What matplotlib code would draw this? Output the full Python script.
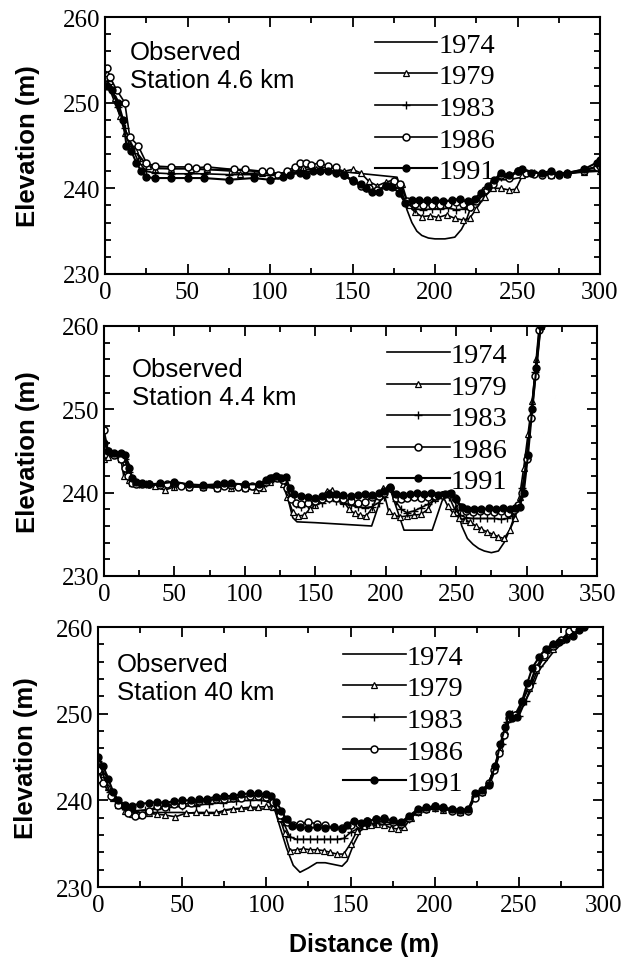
import matplotlib
matplotlib.use("Agg")
import matplotlib.pyplot as plt
from matplotlib.ticker import MultipleLocator

# Station 4.6 km
S46_1974_X = [2, 5, 10, 15, 20, 25, 30, 40, 50, 60, 75, 90, 100, 110, 120, 130, 136, 177, 180, 183, 186, 189, 192, 196, 200, 206, 212, 216, 219, 223, 228, 233, 238, 245, 250, 260, 270, 280, 290, 300]
S46_1974_Y = [252, 250.5, 248, 245.5, 244, 242.8, 242.4, 242.3, 242.3, 242.2, 242.2, 242, 241.8, 241.8, 242.2, 242.3, 242.1, 241.3, 239.5, 237.5, 236, 235, 234.5, 234.2, 234.1, 234.1, 234.3, 235.2, 236.3, 238.5, 239.5, 240.2, 241, 241, 241.2, 241.5, 241.6, 241.8, 242, 242.2]
S46_1979_X = [1, 3, 6, 9, 12, 15, 18, 22, 26, 30, 40, 52, 62, 78, 82, 95, 105, 115, 120, 128, 135, 140, 145, 150, 155, 160, 165, 170, 175, 180, 184, 188, 192, 197, 202, 207, 212, 217, 221, 225, 230, 235, 240, 245, 249, 253, 260, 270, 280, 290, 300]
S46_1979_Y = [253.5, 252.5, 250.5, 248.5, 246.5, 245, 244.5, 243.2, 242.6, 242.3, 242.3, 242.3, 242.2, 242, 241.7, 241.8, 241.6, 242.2, 242.5, 242.3, 242.5, 242.3, 242, 242.2, 241.8, 240.8, 240.3, 240.7, 241, 240.5, 238, 237.2, 236.7, 236.8, 236.6, 236.9, 236.5, 236.3, 236.5, 237.6, 239, 240, 240, 239.8, 239.9, 241.5, 241.8, 241.5, 241.7, 241.9, 242]
S46_1983_X = [1, 4, 8, 12, 16, 20, 25, 30, 40, 50, 60, 75, 90, 100, 110, 120, 130, 140, 150, 158, 165, 172, 178, 183, 188, 193, 198, 203, 208, 213, 218, 222, 226, 231, 236, 240, 245, 252, 260, 270, 280, 290, 300]
S46_1983_Y = [252.5, 251.5, 249.5, 247, 245, 243.2, 242, 241.8, 241.7, 241.7, 241.7, 241.6, 241.6, 241.5, 241.8, 242, 242, 241.8, 241, 240, 239.8, 240.3, 240, 238.2, 237.6, 237.5, 237.6, 237.6, 237.7, 237.5, 237.6, 237.8, 238.5, 239.7, 240.8, 241.3, 241.5, 242, 241.8, 241.7, 241.8, 242.2, 242.6]
S46_1986_X = [1, 3, 7, 12, 15, 20, 25, 30, 40, 50, 55, 62, 78, 85, 95, 100, 105, 110, 115, 118, 122, 125, 130, 135, 140, 145, 150, 155, 160, 165, 170, 175, 179, 183, 188, 193, 198, 203, 208, 213, 217, 221, 225, 230, 235, 240, 245, 250, 255, 260, 265, 270, 275, 280, 290, 298, 300]
S46_1986_Y = [254, 253, 251.5, 250, 246, 245, 243, 242.6, 242.5, 242.5, 242.4, 242.5, 242.2, 242.2, 242, 242, 241.6, 242, 242.5, 243, 243, 242.7, 243, 242.6, 242.5, 241.5, 240.8, 240.3, 240, 239.8, 240.3, 240.8, 240.5, 238.5, 238.2, 238, 238.1, 238, 238.2, 238.4, 238.2, 237.8, 238.5, 239.8, 240.5, 241.5, 241.2, 242, 241.8, 241.7, 241.5, 241.6, 241.5, 241.7, 242, 242.5, 242.6]
S46_1991_X = [1, 4, 8, 11, 13, 16, 19, 22, 25, 30, 40, 50, 60, 75, 90, 100, 108, 112, 118, 122, 126, 130, 135, 140, 145, 150, 155, 158, 162, 166, 170, 174, 178, 182, 186, 190, 195, 200, 205, 210, 215, 220, 224, 228, 232, 236, 240, 245, 250, 253, 258, 265, 270, 275, 280, 290, 298, 300]
S46_1991_Y = [252, 251.5, 250, 248, 245, 244.3, 243, 242, 241.3, 241.2, 241.2, 241.2, 241.2, 241, 241.2, 241, 241.3, 241.6, 241.8, 241.5, 242, 242, 242, 241.8, 241.5, 241, 240.5, 240, 239.6, 239.6, 240.3, 240.2, 239.5, 238.3, 238.6, 238.6, 238.6, 238.6, 238.5, 238.6, 238.7, 238.5, 238.8, 239.5, 240.3, 241, 241.8, 241.5, 242, 242.3, 241.8, 241.8, 242, 241.7, 241.8, 242.2, 243, 243.3]

# Station 4.4 km
S44_1974_X = [0, 3, 8, 15, 18, 22, 30, 50, 75, 100, 115, 120, 125, 128, 131, 134, 137, 150, 170, 190, 193, 197, 201, 204, 207, 210, 213, 233, 236, 240, 244, 248, 251, 254, 258, 262, 266, 270, 275, 280, 284, 288, 292, 295, 298, 301, 304, 307, 310]
S44_1974_Y = [245, 244.8, 244.5, 244.3, 242, 241, 241, 240.8, 240.7, 240.7, 241, 241.5, 241.6, 241.3, 239, 237, 236.5, 236.4, 236.2, 236, 237.5, 239.5, 240.7, 240, 238.5, 237, 235.5, 235.5, 237, 239, 239.8, 239.5, 238, 236, 234.5, 233.8, 233.3, 233, 232.8, 233, 234, 235.5, 237.5, 239, 241.5, 245.5, 250, 255, 260]
S44_1979_X = [0, 3, 8, 12, 14, 16, 18, 20, 25, 30, 36, 43, 50, 60, 70, 80, 90, 100, 108, 113, 118, 123, 127, 130, 134, 138, 142, 146, 150, 154, 158, 162, 166, 170, 174, 178, 182, 186, 190, 194, 198, 202, 206, 210, 215, 220, 225, 230, 235, 240, 244, 248, 252, 256, 260, 264, 268, 272, 276, 280, 284, 288, 292, 295, 298, 301, 304, 307, 310]
S44_1979_Y = [244, 244.3, 244.5, 244, 242, 243.5, 241.5, 241.2, 241, 241, 240.8, 240.3, 240.7, 240.7, 240.7, 240.6, 240.6, 240.5, 240.3, 240.6, 241.3, 241.7, 241, 239.5, 237.7, 237.2, 237.3, 238, 238.5, 239.3, 240.2, 240.3, 239.8, 239, 238, 237.5, 237.3, 237.2, 238, 239.6, 240.5, 237.8, 237.3, 237.1, 237.2, 237.3, 237.4, 238, 239.4, 239.8, 238.4, 237.5, 237, 236.7, 236.5, 236, 235.6, 235.3, 235, 234.7, 234.5, 235.5, 237, 239.5, 243, 247, 251, 256, 260]
S44_1983_X = [0, 4, 8, 12, 15, 18, 20, 25, 30, 40, 50, 60, 70, 80, 90, 100, 110, 115, 120, 125, 129, 132, 136, 140, 145, 150, 155, 160, 165, 170, 175, 180, 185, 190, 195, 199, 203, 207, 211, 215, 220, 225, 230, 235, 240, 245, 249, 253, 257, 262, 267, 272, 277, 282, 286, 290, 294, 297, 300, 303, 306, 309]
S44_1983_Y = [245, 244.8, 244.6, 244.5, 244, 242.5, 241.5, 241, 241, 240.9, 240.8, 240.8, 240.8, 240.9, 240.8, 240.7, 240.8, 241.2, 241.6, 241.7, 241.5, 239.5, 238.6, 238.3, 238.5, 238.6, 238.8, 239.2, 239, 238.8, 238.5, 238.3, 238.2, 238.3, 238.8, 239.5, 240.5, 239, 238, 237.6, 237.8, 238.2, 238.6, 239.2, 239.7, 239.5, 238, 237.3, 237, 236.9, 236.9, 236.9, 236.9, 236.8, 236.9, 237.2, 238.2, 240.5, 244, 249, 254.5, 260]
S44_1986_X = [0, 3, 7, 12, 15, 17, 20, 23, 27, 32, 40, 45, 50, 55, 60, 70, 80, 85, 90, 95, 100, 105, 110, 115, 119, 123, 127, 130, 133, 136, 140, 145, 150, 155, 160, 165, 170, 175, 180, 185, 190, 195, 199, 203, 207, 211, 215, 220, 225, 230, 235, 240, 245, 249, 253, 257, 262, 267, 272, 277, 282, 287, 291, 294, 297, 300, 303, 306, 309]
S44_1986_Y = [247.5, 245, 244.5, 244, 243, 242, 241.2, 241, 241, 241, 240.9, 241, 241.2, 240.8, 240.7, 240.7, 240.5, 240.8, 240.9, 240.7, 240.5, 240.8, 240.7, 241.3, 241.7, 241.8, 241.5, 240.5, 239.2, 238.8, 238.6, 238.8, 239, 239.2, 239.3, 239.3, 239.2, 239, 238.8, 238.9, 239.5, 239.6, 240, 240.5, 239.3, 239.2, 239.4, 239.5, 239.4, 239.5, 239.6, 239.7, 239.8, 239.3, 238.3, 237.8, 237.7, 237.8, 237.8, 237.7, 237.8, 237.6, 237.9, 238.5, 240, 244, 249, 254, 259.5]
S44_1991_X = [0, 3, 7, 12, 15, 18, 20, 23, 27, 32, 40, 50, 60, 70, 80, 85, 90, 100, 110, 115, 118, 122, 126, 129, 132, 135, 140, 145, 150, 155, 160, 165, 170, 175, 180, 185, 190, 195, 199, 203, 207, 212, 217, 222, 227, 232, 237, 242, 246, 250, 254, 258, 263, 268, 273, 278, 283, 288, 292, 295, 298, 301, 304, 307, 310]
S44_1991_Y = [246, 245, 244.8, 244.7, 244.5, 243, 241.8, 241.3, 241.2, 241, 241.1, 241.3, 241, 240.9, 241, 241.2, 241.1, 241, 241, 241.5, 241.8, 242, 241.8, 241.9, 240.5, 239.8, 239.6, 239.5, 239.4, 239.6, 239.8, 239.8, 239.7, 239.6, 239.7, 239.8, 239.7, 239.9, 240.2, 240.7, 239.8, 239.7, 239.8, 239.9, 239.8, 239.9, 239.7, 239.8, 240, 239.2, 238.3, 238, 238, 238, 238.1, 238, 238.1, 238, 238.1, 238.3, 240, 244.5, 250, 255, 260]

# Station 40 km
S40_1974_X = [0, 3, 6, 10, 14, 18, 22, 30, 40, 50, 60, 72, 75, 80, 90, 100, 105, 108, 112, 116, 120, 125, 130, 135, 140, 145, 148, 152, 156, 160, 170, 180, 185, 190, 200, 210, 220, 224, 228, 232, 235, 238, 241, 244, 247, 250, 254, 258, 262, 266, 270, 275, 280, 285, 288]
S40_1974_Y = [244.5, 243, 241.5, 240, 239.2, 238.8, 238.6, 238.6, 238.6, 238.6, 238.5, 238.5, 238.9, 239, 239, 239, 238.9, 237, 234.5, 232.5, 231.7, 232.2, 232.8, 232.8, 232.6, 232.4, 233, 235, 236.5, 237, 237.2, 237.3, 238.3, 238.8, 239, 239, 238.8, 240.8, 241, 241.5, 243, 245, 247, 249, 249.7, 250, 251.5, 253, 255, 256, 257, 258, 259, 259.7, 260]
S40_1979_X = [0, 3, 6, 9, 12, 16, 20, 25, 30, 35, 40, 46, 52, 58, 64, 70, 75, 80, 85, 90, 95, 100, 104, 108, 111, 114, 118, 122, 126, 130, 134, 138, 142, 146, 150, 154, 158, 162, 166, 170, 174, 178, 182, 186, 190, 195, 200, 205, 210, 215, 220, 224, 228, 232, 236, 239, 242, 245, 248, 252, 256, 260, 265, 270, 275, 280, 286]
S40_1979_Y = [244.5, 243, 241.5, 240.3, 239.5, 238.8, 238.4, 238.3, 238.5, 238.4, 238.3, 238.1, 238.5, 238.6, 238.6, 238.6, 238.8, 239, 239.1, 239.2, 239.2, 239.3, 239.2, 238, 236.2, 234.2, 234.3, 234.4, 234.3, 234.3, 234.2, 234, 233.8, 233.8, 235, 236.5, 237, 237.2, 237.3, 237.2, 236.8, 236.7, 236.9, 238, 238.7, 239, 239.1, 238.9, 238.9, 238.7, 238.9, 240.5, 241, 242, 244, 246, 248, 249.5, 250, 251.5, 253, 255, 256.5, 257.5, 258.5, 259.2, 260]
S40_1983_X = [0, 3, 7, 10, 14, 18, 22, 28, 35, 42, 50, 58, 66, 74, 82, 90, 97, 102, 106, 110, 114, 118, 122, 126, 130, 134, 138, 142, 146, 150, 155, 160, 165, 170, 175, 180, 185, 190, 195, 200, 205, 210, 215, 220, 224, 228, 232, 236, 240, 243, 246, 250, 254, 258, 262, 266, 270, 275, 280, 286]
S40_1983_Y = [244.5, 243, 241, 240, 239.3, 238.9, 238.8, 238.9, 239, 239.2, 239.3, 239.4, 239.6, 239.7, 239.9, 240, 240, 239.8, 239, 237.5, 235.8, 235.5, 235.5, 235.5, 235.5, 235.5, 235.5, 235.5, 235.6, 236.3, 236.8, 237.2, 237.4, 237.6, 237.3, 237.1, 237.8, 238.7, 239, 239.1, 239, 238.9, 238.8, 238.8, 240.5, 241, 242, 244, 246.5, 249, 250, 249.7, 251.5, 253.5, 255.5, 257, 258, 258.5, 259.3, 260]
S40_1986_X = [0, 3, 8, 12, 18, 22, 26, 30, 35, 40, 45, 50, 55, 60, 65, 70, 75, 80, 85, 90, 95, 100, 104, 108, 112, 116, 120, 125, 130, 135, 140, 145, 150, 155, 160, 165, 170, 175, 180, 185, 190, 195, 200, 205, 210, 215, 220, 224, 228, 232, 235, 238, 241, 244, 248, 252, 256, 260, 265, 270, 275, 280, 283]
S40_1986_Y = [243.5, 242, 240.5, 239.5, 238.5, 238.2, 238.3, 238.8, 239.3, 239.2, 239.6, 239.5, 239.7, 239.9, 240, 240.1, 240.2, 240.3, 240.3, 240.5, 240.5, 240.4, 239.8, 238.3, 237.5, 237.2, 237.3, 237.5, 237.3, 237.1, 236.9, 236.8, 237.2, 237.3, 237.6, 237.8, 238, 237.5, 237.3, 238, 238.8, 239, 239.3, 239.1, 238.8, 238.7, 238.8, 240.3, 241, 242, 243.5, 245.5, 247.5, 249.5, 249.8, 251.3, 253.2, 255.3, 256.8, 257.8, 258.5, 259.5, 259.9]
S40_1991_X = [0, 3, 6, 9, 12, 16, 20, 25, 30, 35, 40, 45, 50, 55, 60, 65, 70, 75, 80, 85, 90, 95, 100, 103, 106, 109, 112, 115, 120, 125, 130, 135, 140, 145, 148, 152, 156, 160, 165, 170, 175, 180, 185, 190, 195, 200, 205, 210, 215, 220, 224, 228, 232, 236, 239, 242, 244, 246, 249, 252, 255, 258, 262, 266, 270, 274, 278, 282, 286, 289]
S40_1991_Y = [245, 244, 242.5, 241, 240, 239.5, 239.4, 239.6, 239.7, 239.8, 239.7, 239.9, 240, 240, 240.1, 240.2, 240.4, 240.5, 240.5, 240.7, 240.8, 240.8, 240.7, 240.5, 239.8, 238.8, 237.8, 237, 236.9, 236.8, 236.9, 236.8, 236.9, 236.7, 237.1, 237.6, 237.4, 237.6, 237.8, 237.9, 237.7, 237.5, 238.2, 239, 239.2, 239.3, 239.2, 239, 238.9, 239, 240.8, 241.2, 241.8, 244, 246.5, 248.5, 250, 249.5, 249.6, 251.5, 253.5, 255.3, 256.5, 257.5, 258, 258.3, 258.6, 259, 259.6, 260]

YEARS = ["1974", "1979", "1983", "1986", "1991"]
STATIONS = ["Station 4.6 km", "Station 4.4 km", "Station 40 km"]
X_MAX = [300, 350, 300]

PANELS = [
    [(S46_1974_X, S46_1974_Y), (S46_1979_X, S46_1979_Y), (S46_1983_X, S46_1983_Y),
     (S46_1986_X, S46_1986_Y), (S46_1991_X, S46_1991_Y)],
    [(S44_1974_X, S44_1974_Y), (S44_1979_X, S44_1979_Y), (S44_1983_X, S44_1983_Y),
     (S44_1986_X, S44_1986_Y), (S44_1991_X, S44_1991_Y)],
    [(S40_1974_X, S40_1974_Y), (S40_1979_X, S40_1979_Y), (S40_1983_X, S40_1983_Y),
     (S40_1986_X, S40_1986_Y), (S40_1991_X, S40_1991_Y)],
]

# marker style for each year
STYLES = [
    dict(marker=None, lw=1.2),
    dict(marker="^", ms=4.5, mfc="white", mec="black", mew=0.9, lw=1.2),
    dict(marker="+", ms=6, mec="black", mew=1.0, lw=1.2),
    dict(marker="o", ms=5, mfc="white", mec="black", mew=1.1, lw=1.2),
    dict(marker="o", ms=5, mfc="black", mec="black", lw=1.5),
]

SERIF = ["Liberation Serif", "DejaVu Serif"]
SANS = ["Liberation Sans", "DejaVu Sans"]

fig = plt.figure(figsize=(6.23, 9.62), dpi=100)

# axes boxes in pixels: left, top, right, bottom
BOXES = [(105, 18, 600, 275), (104, 327, 597, 577), (98, 628, 603, 888)]
TEXT_POS = [(0.05, 0.91), (0.057, 0.875), (0.038, 0.905)]
LEGEND_POS = [(0.545, 0.942), (0.574, 0.936), (0.485, 0.935)]
YLABEL_X = [-0.131, -0.13, -0.119]

W, H = 623, 962
for i, (l, t, r, b) in enumerate(BOXES):
    ax = fig.add_axes([l / W, 1 - b / H, (r - l) / W, (b - t) / H])
    for (xs, ys), year, st in zip(PANELS[i], YEARS, STYLES):
        ax.plot(xs, ys, color="black", label=year, **st)
    ax.set_xlim(0, X_MAX[i])
    ax.set_ylim(230, 260)
    ax.xaxis.set_major_locator(MultipleLocator(50))
    ax.xaxis.set_minor_locator(MultipleLocator(25))
    ax.yaxis.set_major_locator(MultipleLocator(10))
    ax.yaxis.set_minor_locator(MultipleLocator(2))
    ax.tick_params(which="both", direction="in", top=True, right=True, width=1.3)
    ax.tick_params(which="major", length=7)
    ax.tick_params(which="minor", length=4)
    ax.tick_params(axis="x", pad=5)
    ax.tick_params(axis="y", pad=3)
    for lab in ax.get_xticklabels() + ax.get_yticklabels():
        lab.set_family(SERIF)
        lab.set_fontsize(18)
    for sp in ax.spines.values():
        sp.set_linewidth(1.5)
    ax.set_ylabel("Elevation (m)", family=SANS, fontsize=18.5, fontweight="bold")
    ax.yaxis.set_label_coords(YLABEL_X[i], 0.5)
    ax.text(TEXT_POS[i][0], TEXT_POS[i][1], "Observed\n" + STATIONS[i], transform=ax.transAxes,
            ha="left", va="top", family=SANS, fontsize=18.5, linespacing=1.22)
    ax.legend(loc="upper left", bbox_to_anchor=LEGEND_POS[i], frameon=False,
              prop={"family": SERIF, "size": 20.5}, handlelength=2.2, handletextpad=0.05,
              labelspacing=0.2, borderpad=0, borderaxespad=0, numpoints=1)

fig.text(364 / W, 1 - 945 / H, "Distance (m)", ha="center", va="center",
         family=SANS, fontsize=18, fontweight="bold")

fig.savefig("out.png", dpi=100)
